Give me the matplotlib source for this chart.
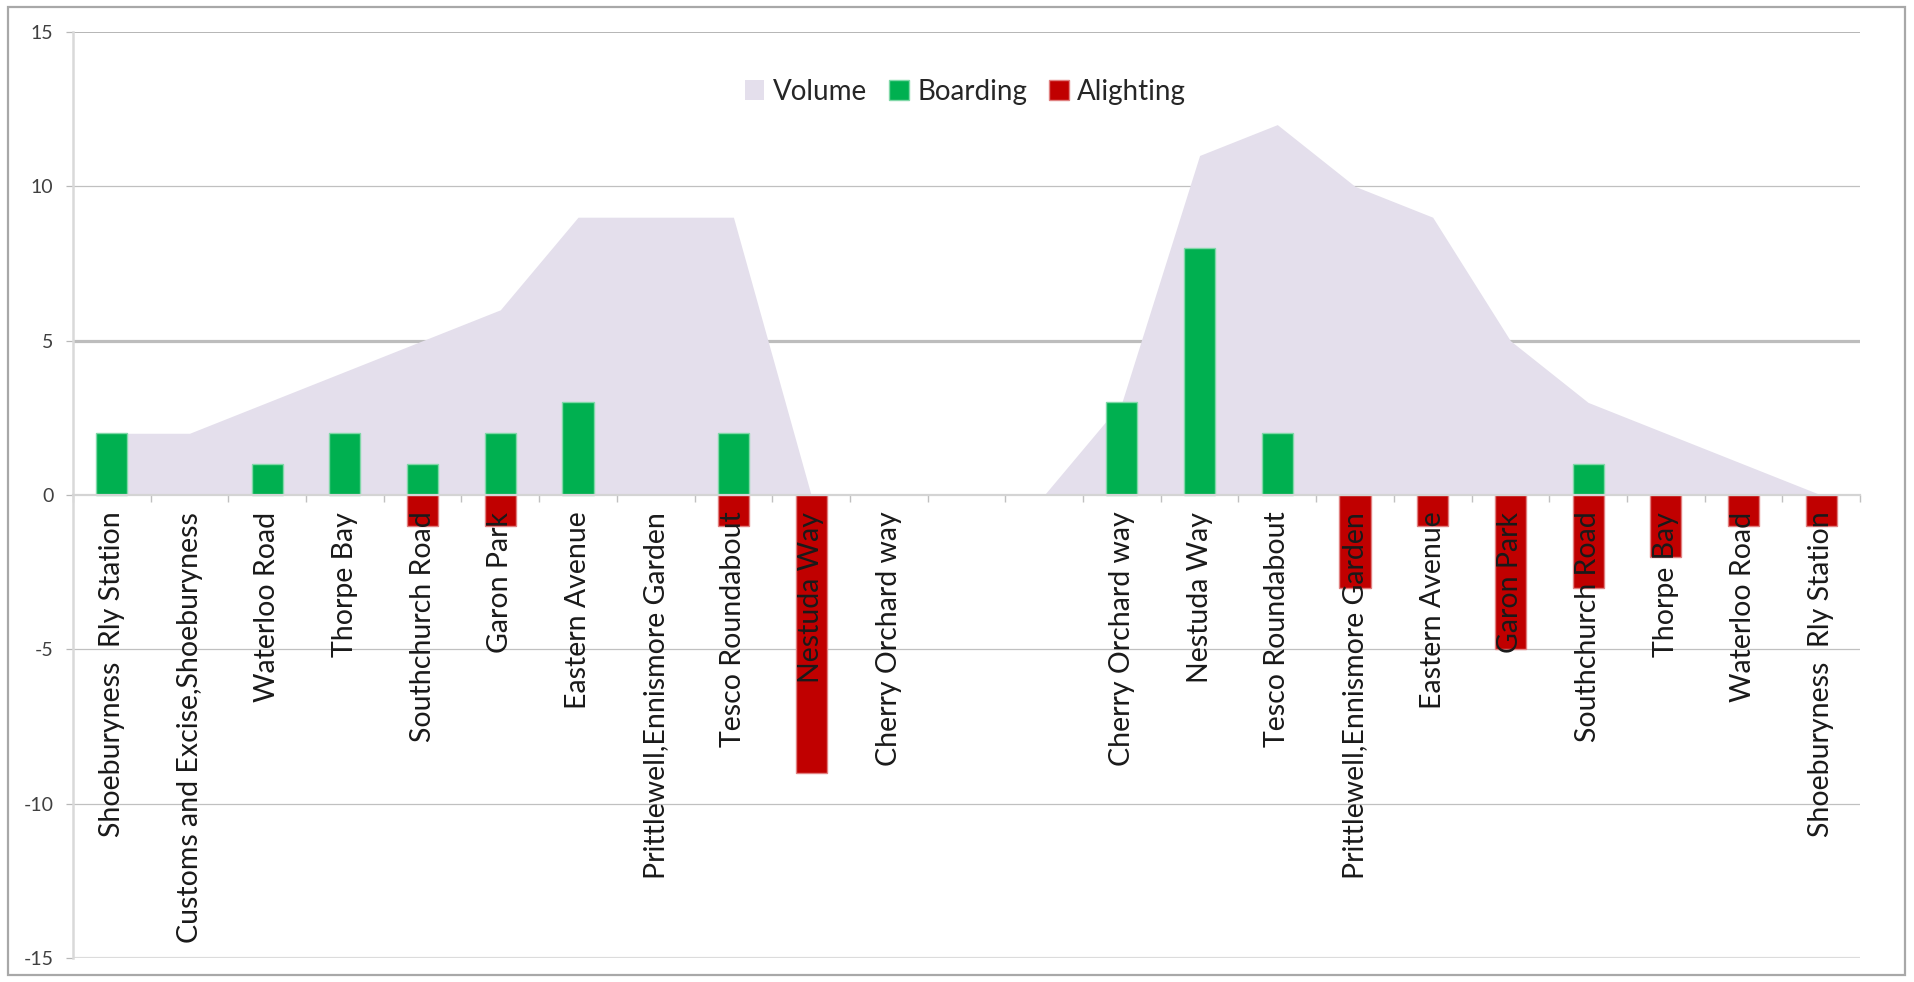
import matplotlib
matplotlib.use('Agg')
import matplotlib.pyplot as plt
import numpy as np
from matplotlib.patches import Rectangle

# ---- data ----
stops = ["Shoeburyness  Rly Station", "Customs and Excise,Shoeburyness", "Waterloo Road",
         "Thorpe Bay", "Southchurch Road", "Garon Park", "Eastern Avenue",
         "Prittlewell,Ennismore Garden", "Tesco Roundabout", "Nestuda Way",
         "Cherry Orchard way", "", "",
         "Cherry Orchard way", "Nestuda Way", "Tesco Roundabout",
         "Prittlewell,Ennismore Garden", "Eastern Avenue", "Garon Park",
         "Southchurch Road", "Thorpe Bay", "Waterloo Road", "Shoeburyness  Rly Station"]
volume = [2, 2, 3, 4, 5, 6, 9, 9, 9, 0, 0, 0, 0,
          3, 11, 12, 10, 9, 5, 3, 2, 1, 0]
boarding = [2, 0, 1, 2, 1, 2, 3, 0, 2, 0, 0, 0, 0,
            3, 8, 2, 0, 0, 0, 1, 0, 0, 0]
alighting = [0, 0, 0, 0, -1, -1, 0, 0, -1, -9, 0, 0, 0,
             0, 0, 0, -3, -1, -5, -3, -2, -1, -1]
yticks = [-15, -10, -5, 0, 5, 10, 15]
series_names = ["Volume", "Boarding", "Alighting"]

plt.rcParams['font.family'] = ['Lato', 'DejaVu Sans']

W, H = 1914, 982
fig = plt.figure(figsize=(W / 100, H / 100), dpi=100)
ax = fig.add_axes([73 / W, 1 - 958 / H, (1860 - 73) / W, (958 - 32) / H])

x = np.arange(len(stops))
b = np.array(boarding, dtype=float)
a = np.array(alighting, dtype=float)
ax.fill_between(x, 0, volume, color='#e4dfec', lw=0, zorder=0.7, label=series_names[0])
ax.bar(x, np.where(b == 0, np.nan, b), width=0.4, color='#00b050', edgecolor='#80d8a8', lw=1,
       zorder=1, label=series_names[1])
ax.bar(x, np.where(a == 0, np.nan, a), width=0.4, color='#c00000', edgecolor='#e08080', lw=1,
       zorder=1, label=series_names[2])

# gridlines
grid_style = {15: ('#b0b0b0', 1.3), 10: ('#c0c0c0', 0.9), 5: ('#bdbdbd', 2.3),
              -5: ('#c0c0c0', 0.9), -10: ('#c0c0c0', 0.9), -15: ('#dcdcdc', 1.6)}
for yv in yticks:
    if yv in grid_style:
        c, lw = grid_style[yv]
        ax.axhline(yv, color=c, lw=lw, zorder=0.5)

ax.set_xlim(-0.5, len(stops) - 0.5)
ax.set_ylim(-15, 15)

for s in ['top', 'right']:
    ax.spines[s].set_visible(False)
ax.spines['left'].set_color('#d9d9d9')
ax.spines['left'].set_linewidth(1.8)
ax.spines['bottom'].set_position(('data', 0))
ax.spines['bottom'].set_color('#d4d4d4')
ax.spines['bottom'].set_linewidth(1.6)

ax.set_yticks(yticks)
ax.set_yticklabels([str(v) for v in yticks])
ax.tick_params(axis='y', length=5, width=0.9, color='#b8b8b8', pad=9,
               labelsize=14, labelcolor='#404040')

ax.set_xticks(x)
ax.set_xticklabels(stops, rotation=90, fontsize=20.5, color='#1a1a1a')
ax.tick_params(axis='x', which='major', length=0, pad=12)
ax.set_xticks(np.arange(-0.5, len(stops), 1.0), minor=True)
ax.tick_params(axis='x', which='minor', length=5, width=1, color='#c0c0c0')

leg = fig.legend(loc='center left', bbox_to_anchor=(745 / W, 1 - 92 / H),
                 bbox_transform=fig.transFigure, ncol=3, frameon=False,
                 fontsize=20, handlelength=0.7, handleheight=0.75,
                 handletextpad=0.3, columnspacing=0.8, borderpad=0,
                 borderaxespad=0)
for t in leg.get_texts():
    t.set_color('#262626')

fig.patches.append(Rectangle((8 / W, 1 - 975 / H), (1905 - 8) / W, (975 - 7) / H,
                             transform=fig.transFigure, fill=False,
                             edgecolor='#a8a8a8', lw=1.6))

fig.savefig('out.png', dpi=100, facecolor='white')
